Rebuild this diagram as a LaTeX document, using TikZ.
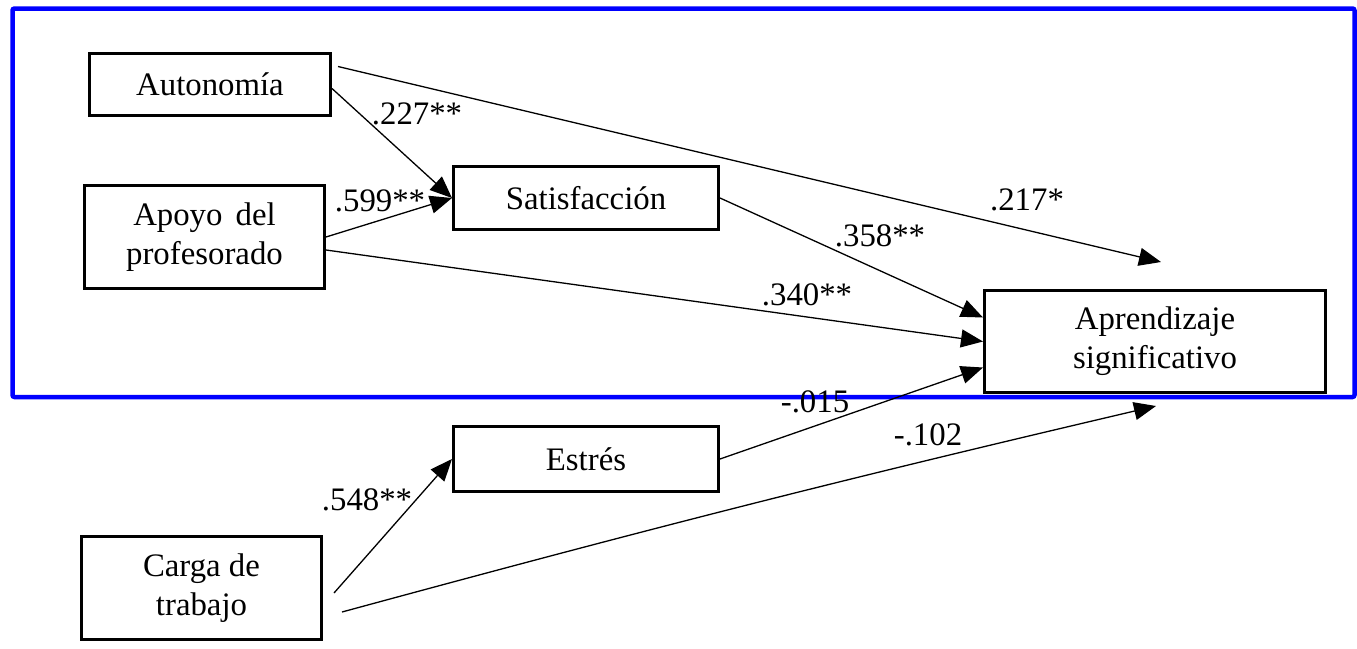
\documentclass[tikz,border=0pt]{standalone}
\usepackage{fontspec}
\setmainfont{Liberation Serif}
\usetikzlibrary{arrows.meta}

\begin{document}
\begin{tikzpicture}[x=0.5pt, y=-0.5pt,
	caja/.style={draw, line width=1.3pt, align=center, inner sep=0pt, font=\fontsize{16.4pt}{19.5pt}\selectfont},
	coef/.style={inner sep=0pt, font=\fontsize{16.4pt}{19.5pt}\selectfont},
	flecha/.style={line width=0.65pt, -{Triangle[length=11pt, width=9pt]}}]
	
	\useasboundingbox (0,0) rectangle (1357,649);
	\draw [blue, line width=2.25pt, rounded corners=1pt] (12.5,8.5) rectangle (1354.5,397);
	
	\node [caja, minimum width=120.7pt, minimum height=31.2pt] (auto) at (210,84.5) {Autonomía};
	\node [caja, minimum width=120.2pt, minimum height=51.7pt] (apoyo) at (204.5,237) {Apoyo\hspace{0.4em}del\\profesorado};
	\node [caja, minimum width=132.7pt, minimum height=31.7pt] (satis) at (586,198) {Satisfacción};
	\node [caja, minimum width=132.7pt, minimum height=32.7pt] (estres) at (586,459) {Estrés};
	\node [caja, minimum width=170.7pt, minimum height=51.2pt] (apren) at (1155,341.5) {Aprendizaje\\significativo};
	\node [caja, minimum width=120.2pt, minimum height=51.7pt] (carga) at (201.5,588) {Carga de\\trabajo};
	
	\coordinate (fin1) at (1161,262);
	\coordinate (fin2) at (1156,406);
	
	\draw [flecha] ([yshift=-2pt]auto.east) -- (satis.west);
	\draw [flecha] (apoyo.east) -- (satis.west);
	\draw [flecha] ([xshift=3pt, yshift=9pt]auto.east) -- (fin1);
	\draw [flecha] (satis.east) -- ([yshift=12pt]apren.west);
	\draw [flecha] ([yshift=-6.5pt]apoyo.east) -- (apren.west);
	\draw [flecha] (estres.east) -- ([yshift=-13pt]apren.west);
	\draw [flecha] ([xshift=5.5pt, yshift=-2.5pt]carga.east) -- (estres.west);
	\draw [flecha] ([xshift=9.5pt, yshift=-12pt]carga.east) to [bend left=1] (fin2);
	
	\node [coef] (c227) at (417,114) {.227**};
	\node [coef] (c599) at (380,201) {.599**};
	\node [coef] (c217) at (1027,200) {.217*};
	\node [coef] (c358) at (880,236) {.358**};
	\node [coef] (c340) at (807,295) {.340**};
	\node [coef] (c015) at (815,402) {-.015};
	\node [coef] (c102) at (928,435) {-.102};
	\node [coef] (c548) at (367,500) {.548**};
\end{tikzpicture}
\end{document}
